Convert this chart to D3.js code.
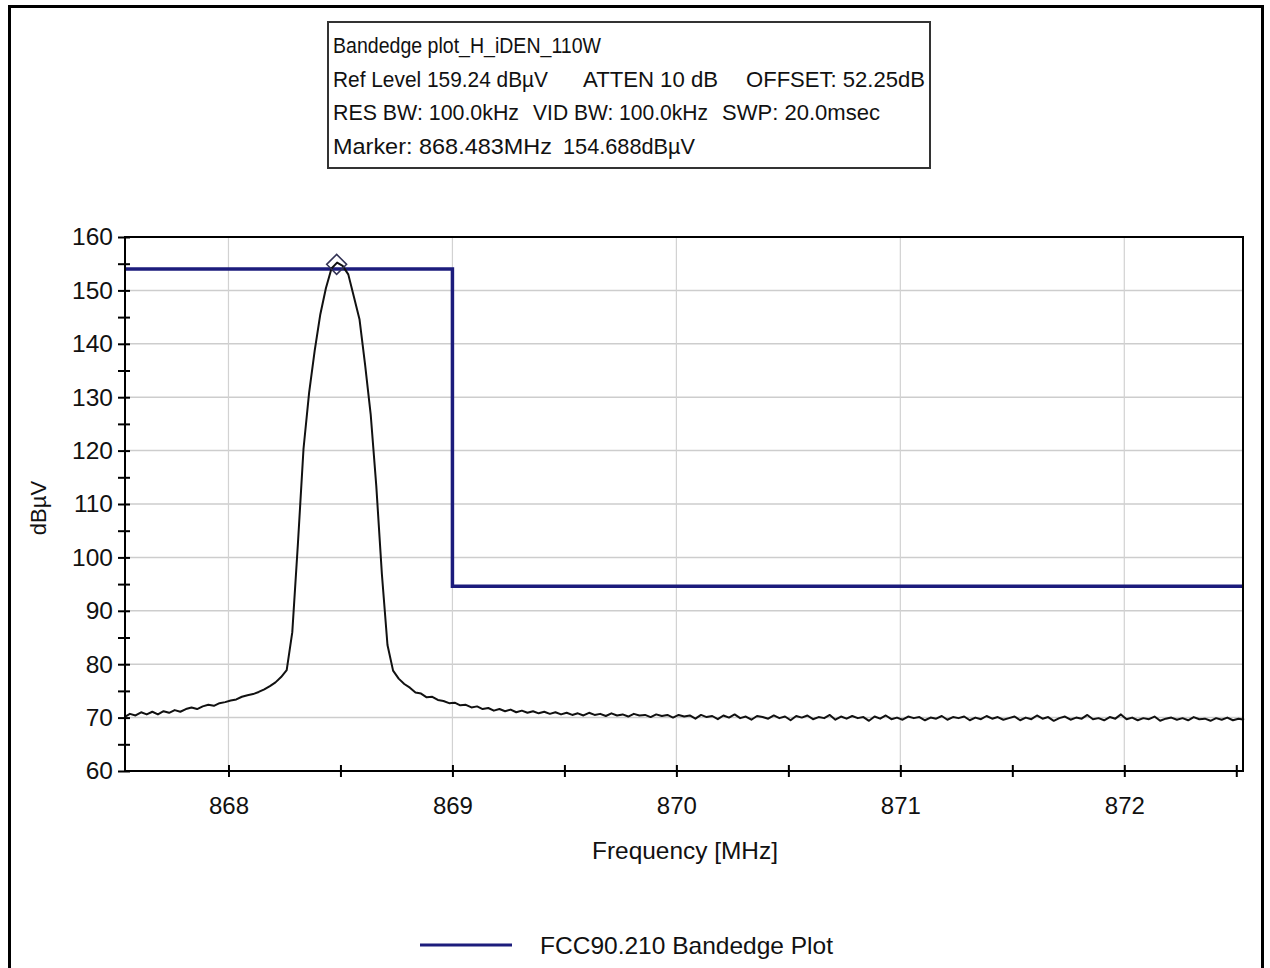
<!DOCTYPE html>
<html>
<head>
<meta charset="utf-8">
<script src="https://cdn.jsdelivr.net/npm/d3@7"></script>
<style>
  body { margin: 0; background: #fff; }
  text { font-family: "Liberation Sans", Arial, sans-serif; fill: #111; }
</style>
</head>
<body>
<svg class="chart"></svg>
<script>
// header info
var infoLines = [
  [["Bandedge plot_H_iDEN_110W", 333, 268]],
  [["Ref Level 159.24 dB\u00b5V", 333, 215], ["ATTEN 10 dB", 583, 135], ["OFFSET: 52.25dB", 746, 179]],
  [["RES BW: 100.0kHz", 333, 186], ["VID BW: 100.0kHz", 533, 175], ["SWP: 20.0msec", 722, 158]],
  [["Marker: 868.483MHz", 333, 219], ["154.688dB\u00b5V", 563, 132]]
];

// axis ticks
var xTicks = [868, 869, 870, 871, 872];
var xMinor = [868.5, 869.5, 870.5, 871.5, 872.5];
var yTicks = [60, 70, 80, 90, 100, 110, 120, 130, 140, 150, 160];
var yMinor = [65, 75, 85, 95, 105, 115, 125, 135, 145, 155];

// sweep: 201 points, start 867.535 MHz, 25 kHz step
var sweepStart = 867.535;
var sweepStep = 0.025;
var traceLevel = [
  70.1, 70.7, 70.4, 71.0, 70.6, 71.1, 70.6, 71.2, 70.9, 71.4,
  71.1, 71.6, 71.9, 71.6, 72.1, 72.4, 72.2, 72.7, 72.9, 73.2,
  73.4, 73.9, 74.2, 74.4, 74.8, 75.3, 75.9, 76.6, 77.6, 78.9,
  86.0, 102.5, 120.3, 130.8, 138.7, 145.5, 150.4, 154.1, 155.2, 154.6,
  153.0, 148.8, 144.6, 136.1, 126.8, 113.4, 96.9, 83.6, 78.8, 77.3,
  76.3, 75.6, 74.7, 74.5, 73.8, 73.9, 73.3, 73.1, 72.7, 72.8,
  72.3, 72.4, 71.9, 72.1, 71.6, 71.8, 71.3, 71.6, 71.2, 71.5,
  71.0, 71.3, 70.9, 71.2, 70.8, 71.1, 70.7, 71.0, 70.6, 70.9,
  70.5, 70.8, 70.4, 70.9, 70.5, 70.7, 70.3, 70.8, 70.4, 70.6,
  70.2, 70.7, 70.4, 70.5, 70.1, 70.6, 70.3, 70.5, 70.0, 70.5,
  70.2, 70.4, 69.8, 70.5, 70.1, 70.3, 69.7, 70.4, 70.0, 70.6,
  69.9, 70.2, 69.6, 70.3, 70.1, 69.8, 70.4, 69.9, 70.2, 69.5,
  70.3, 70.0, 70.4, 69.7, 70.1, 69.9, 70.5, 69.6, 70.2, 69.8,
  70.3, 69.9, 70.1, 69.4, 70.2, 69.8, 70.4, 69.7, 70.0, 69.6,
  70.2, 69.9, 70.1, 69.5, 70.0, 69.8, 70.3, 69.6, 70.1, 69.9,
  70.2, 69.5, 70.0, 69.7, 70.3, 69.8, 70.1, 69.6, 69.9, 70.2,
  69.5, 70.0, 69.7, 70.4, 69.8, 70.1, 69.4, 69.9, 70.2, 69.6,
  70.0, 69.8, 70.5, 69.7, 69.9, 69.5, 70.1, 69.8, 70.6, 69.7,
  70.0, 69.5, 69.9, 69.7, 70.2, 69.4, 69.8, 70.0, 69.6, 69.9,
  69.5, 70.1, 69.7, 69.8, 69.4, 69.9, 69.6, 70.0, 69.5, 69.8,
  69.6
];

// FCC 90.210 limit
var limitFreq = [867.538, 869, 869, 872.53];
var limitLevel = [154, 154, 94.6, 94.6];

// marker
var markerFreq = 868.483;
var markerLevel = 154.688;

var width = 1270;
var height = 968;
var svg = d3.select(".chart").attr("width", width).attr("height", height);

var plotL = 125, plotR = 1243, plotT = 237, plotB = 771;
var navy = "#1c1c7c";

var x = d3.scaleLinear().domain([867.538, 872.53]).range([plotL, plotR]);
var y = d3.scaleLinear().domain([60, 160]).range([plotB, plotT]);

// outer frame
svg.append("rect")
  .attr("x", 9.5).attr("y", 6.5).attr("width", 1253).attr("height", 1000)
  .attr("fill", "none").attr("stroke", "#000").attr("stroke-width", 3);

// info box
svg.append("rect")
  .attr("x", 328).attr("y", 22).attr("width", 602).attr("height", 146)
  .attr("fill", "#fff").attr("stroke", "#333").attr("stroke-width", 2);

infoLines.forEach(function(line, i) {
  line.forEach(function(seg) {
    svg.append("text")
      .attr("x", seg[1])
      .attr("y", 53 + i * 33.5)
      .attr("textLength", seg[2])
      .attr("lengthAdjust", "spacingAndGlyphs")
      .style("font-size", "22.5px")
      .text(seg[0]);
  });
});

// grid
svg.append("g").selectAll("line").data(yTicks.slice(1, -1)).enter().append("line")
  .attr("x1", plotL).attr("x2", plotR)
  .attr("y1", function(d) { return y(d); }).attr("y2", function(d) { return y(d); })
  .attr("stroke", "#cdcdcd").attr("stroke-width", 1.5);

svg.append("g").selectAll("line").data(xTicks).enter().append("line")
  .attr("x1", function(d) { return x(d); }).attr("x2", function(d) { return x(d); })
  .attr("y1", plotT).attr("y2", plotB)
  .attr("stroke", "#d2d2d2").attr("stroke-width", 1.2);

// limit line
var line = d3.line().x(function(d) { return x(d[0]); }).y(function(d) { return y(d[1]); });

svg.append("path")
  .datum(limitFreq.map(function(f, i) { return [f, limitLevel[i]]; }))
  .attr("d", line)
  .attr("fill", "none").attr("stroke", navy).attr("stroke-width", 3.5);

// trace
svg.append("path")
  .datum(traceLevel.map(function(v, i) { return [sweepStart + i * sweepStep, v]; }))
  .attr("d", line)
  .attr("fill", "none").attr("stroke", "#111").attr("stroke-width", 2)
  .attr("stroke-linejoin", "round");

// marker diamond
var mx = x(markerFreq), my = y(markerLevel) - 1;
svg.append("path")
  .attr("d", "M" + mx + "," + (my - 10) + "L" + (mx + 10) + "," + my + "L" + mx + "," + (my + 10) + "L" + (mx - 10) + "," + my + "Z")
  .attr("fill", "none").attr("stroke", "#333355").attr("stroke-width", 1.5);

// plot frame
svg.append("rect")
  .attr("x", plotL).attr("y", plotT).attr("width", plotR - plotL).attr("height", plotB - plotT)
  .attr("fill", "none").attr("stroke", "#000").attr("stroke-width", 2);

// y axis
var yAxis = svg.append("g").attr("transform", "translate(" + plotL + ",0)")
  .call(d3.axisLeft(y).tickValues(yTicks).tickSize(6).tickPadding(6));
yAxis.select(".domain").remove();
yAxis.selectAll("line").attr("x2", -7).attr("x1", 5).attr("stroke-width", 2);
yAxis.selectAll("text").style("font-size", "24.5px").style("font-family", "Liberation Sans, Arial, sans-serif").attr("fill", "#111");

var yAxisMinor = svg.append("g").attr("transform", "translate(" + plotL + ",0)")
  .call(d3.axisLeft(y).tickValues(yMinor).tickSize(6).tickFormat(""));
yAxisMinor.select(".domain").remove();
yAxisMinor.selectAll("line").attr("x2", -7).attr("x1", 5).attr("stroke-width", 2);

// x axis
var xAxis = svg.append("g").attr("transform", "translate(0," + plotB + ")")
  .call(d3.axisBottom(x).tickValues(xTicks).tickFormat(d3.format("d")).tickSize(6).tickPadding(20));
xAxis.select(".domain").remove();
xAxis.selectAll("line").attr("y1", -6).attr("y2", 6).attr("stroke-width", 2);
xAxis.selectAll("text").style("font-size", "24px").style("font-family", "Liberation Sans, Arial, sans-serif").attr("fill", "#111");

var xAxisMinor = svg.append("g").attr("transform", "translate(0," + plotB + ")")
  .call(d3.axisBottom(x).tickValues(xMinor).tickSize(6).tickFormat(""));
xAxisMinor.select(".domain").remove();
xAxisMinor.selectAll("line").attr("y1", -6).attr("y2", 6).attr("stroke-width", 2);

// axis titles
svg.append("text")
  .attr("x", (plotL + plotR) / 2 + 1)
  .attr("y", 859)
  .attr("text-anchor", "middle")
  .attr("textLength", 186)
  .attr("lengthAdjust", "spacingAndGlyphs")
  .style("font-size", "24px")
  .text("Frequency [MHz]");

svg.append("text")
  .attr("transform", "rotate(-90)")
  .attr("x", -508)
  .attr("y", 46)
  .attr("text-anchor", "middle")
  .style("font-size", "22px")
  .text("dB\u00b5V");

// legend
svg.append("line")
  .attr("x1", 420).attr("x2", 512).attr("y1", 945).attr("y2", 945)
  .attr("stroke", navy).attr("stroke-width", 3);

svg.append("text")
  .attr("x", 540)
  .attr("y", 954)
  .attr("textLength", 293)
  .attr("lengthAdjust", "spacingAndGlyphs")
  .style("font-size", "24px")
  .text("FCC90.210 Bandedge Plot");
</script>
</body>
</html>
